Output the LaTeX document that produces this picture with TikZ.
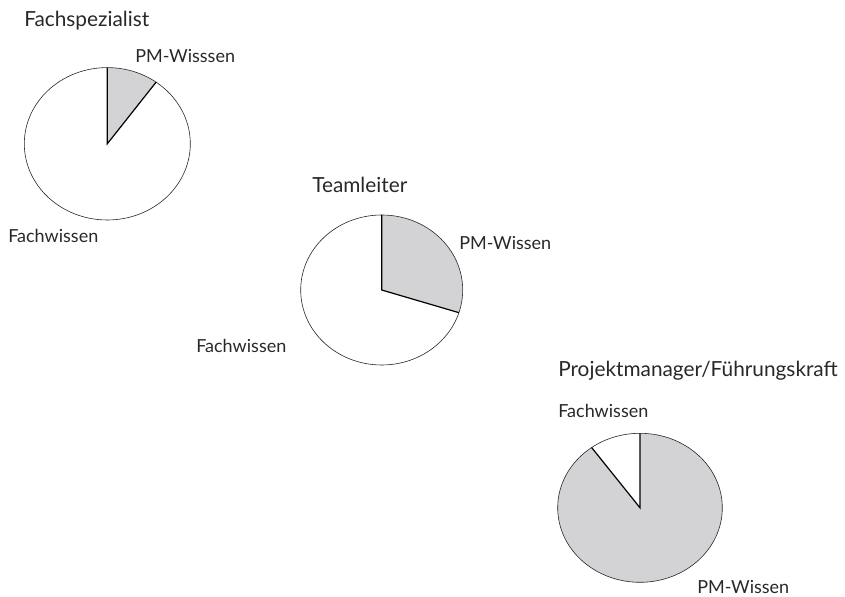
\documentclass[tikz,border=0pt]{standalone}
\usepackage{fontspec}
\setmainfont{Lato}
\usetikzlibrary{calc}
\definecolor{slicegrey}{RGB}{211,211,213}
\definecolor{inkgrey}{RGB}{40,40,40}
\tikzset{
  outline/.style={draw=inkgrey, line width=0.45pt},
  radius line/.style={draw=black, line width=0.9pt},
  title/.style={anchor=base west, inner sep=0pt, text=inkgrey, font=\fontsize{15.6}{17}\selectfont},
  label/.style={anchor=base west, inner sep=0pt, text=inkgrey, font=\fontsize{13.5}{15}\selectfont},
}
\begin{document}
\begin{tikzpicture}[x=0.75pt, y=0.75pt]
  \useasboundingbox (0,0) rectangle (845,596);

  % --- Fachspezialist: 10 % PM knowledge
  \coordinate (c1) at (107.3,452.2);
  \fill[white] (c1) ellipse [x radius=83, y radius=76.2];
  \fill[slicegrey] (c1) -- ($(c1)+(0,76.2)$)
    arc [start angle=90, end angle=54, x radius=83, y radius=76.2] -- cycle;
  \draw[outline] (c1) ellipse [x radius=83, y radius=76.2];
  \draw[radius line] ($(c1)+(0,76.2)$) -- (c1) -- ($(c1)+({83*cos(54)},{76.2*sin(54)})$);
  \node[title] (t1) at (24,569) {Fachspezialist};
  \node[label] (pm1) at (135,533) {PM-Wisssen};
  \node[label] (fw1) at (8,353) {Fachwissen};

  % --- Teamleiter: 30 % PM knowledge
  \coordinate (c2) at (381.7,306);
  \fill[white] (c2) ellipse [x radius=81, y radius=75];
  \fill[slicegrey] (c2) -- ($(c2)+(0,75)$)
    arc [start angle=90, end angle=-17.6, x radius=81, y radius=75] -- cycle;
  \draw[outline] (c2) ellipse [x radius=81, y radius=75];
  \draw[radius line] ($(c2)+(0,75)$) -- (c2) -- ($(c2)+({81*cos(-17.6)},{75*sin(-17.6)})$);
  \node[title] (t2) at (312,403) {Teamleiter};
  \node[label] (pm2) at (459,346) {PM-Wissen};
  \node[label] (fw2) at (196,243) {Fachwissen};

  % --- Projektmanager/Führungskraft: 90 % PM knowledge
  \coordinate (c3) at (640,88.2);
  \fill[slicegrey] (c3) ellipse [x radius=82.3, y radius=74.5];
  \fill[white] (c3) -- ($(c3)+(0,74.5)$)
    arc [start angle=90, end angle=126, x radius=82.3, y radius=74.5] -- cycle;
  \draw[outline] (c3) ellipse [x radius=82.3, y radius=74.5];
  \draw[radius line] ($(c3)+(0,74.5)$) -- (c3) -- ($(c3)+({82.3*cos(126)},{74.5*sin(126)})$);
  \node[title] (t3) at (558,219) {Projektmanager/Führungskraft};
  \node[label] (fw3) at (558,178) {Fachwissen};
  \node[label] (pm3) at (697,3) {PM-Wissen};
\end{tikzpicture}
\end{document}
